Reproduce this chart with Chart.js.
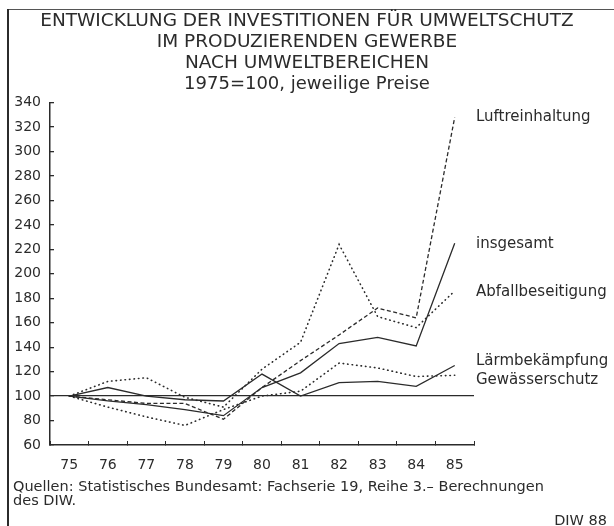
<!DOCTYPE html>
<html>
<head>
<meta charset="utf-8">
<script src="https://cdn.jsdelivr.net/npm/chart.js@4.4.1/dist/chart.umd.min.js"></script>
<style>
  html, body { margin: 0; padding: 0; background: #fff; }
  #wrap { width: 614px; height: 526px; }
</style>
</head>
<body>
<div id="wrap"><canvas id="chart"></canvas></div>
<script>
// values (1975 = 100)
const years = ["75", "76", "77", "78", "79", "80", "81", "82", "83", "84", "85"];
const luftreinhaltung = [100, 97, 94, 94, 81, 107, 129, 150, 172, 164, 328];
const insgesamt = [100, 96, 93, 89, 84, 107, 119, 143, 148, 141, 225];
const abfallbeseitigung = [100, 112, 115, 99, 91, 122, 144, 224, 165, 156, 186];
const laermbekaempfung = [100, 107, 100, 97, 96, 118, 100, 111, 112, 108, 125];
const gewaesserschutz = [100, 91, 83, 76, 89, 100, 104, 127, 123, 116, 117];

const seriesNames = ["Luftreinhaltung", "insgesamt", "Abfallbeseitigung", "Lärmbekämpfung", "Gewässerschutz"];
// where the name sits at the right end, in index units
const endLabelValues = [328, 224, 185, 129, 113];

const titleLines = [
  "ENTWICKLUNG DER INVESTITIONEN FÜR UMWELTSCHUTZ",
  "IM PRODUZIERENDEN GEWERBE",
  "NACH UMWELTBEREICHEN"
];
const subtitleText = "1975=100, jeweilige Preise";
const sourceLines = [
  "Quellen: Statistisches Bundesamt: Fachserie 19, Reihe 3.\u2013 Berechnungen",
  "des DIW."
];
const creditText = "DIW 88";

const ink = "#2b2b2b";
const fontFamily = "'DejaVu Sans', Verdana, sans-serif";

const dashed = [4, 2.5];
const dotted = [0.5, 4];

function lineSet(label, data, dash) {
  return {
    label: label,
    data: data,
    borderColor: ink,
    borderWidth: dash === dotted ? 1.6 : 1.3,
    borderDash: dash,
    borderCapStyle: dash === dotted ? "round" : "butt",
    pointRadius: 0,
    pointHoverRadius: 0,
    tension: 0,
    fill: false
  };
}

// frame, source note and the line names on the right
const decorations = {
  id: "decorations",
  beforeDraw(chart) {
    const { ctx } = chart;
    ctx.save();
    ctx.fillStyle = "#fff";
    ctx.fillRect(0, 0, chart.width, chart.height);
    ctx.strokeStyle = "#555";
    ctx.lineWidth = 1;
    ctx.beginPath();
    ctx.moveTo(8, 9.5);
    ctx.lineTo(chart.width, 9.5);
    ctx.stroke();
    ctx.strokeStyle = ink;
    ctx.lineWidth = 2;
    ctx.beginPath();
    ctx.moveTo(8, 9);
    ctx.lineTo(8, chart.height);
    ctx.stroke();
    ctx.restore();
  },
  afterDraw(chart) {
    const { ctx, chartArea } = chart;
    const y = chart.scales.y;
    ctx.save();
    ctx.fillStyle = ink;
    ctx.textBaseline = "middle";
    ctx.font = "15px " + fontFamily;
    ctx.textAlign = "left";
    seriesNames.forEach((name, i) => {
      ctx.fillText(name, chartArea.right + 2, y.getPixelForValue(endLabelValues[i]));
    });
    ctx.font = "14.5px " + fontFamily;
    ctx.fillText(sourceLines[0], 13, 487);
    ctx.fillText(sourceLines[1], 13, 501);
    ctx.textAlign = "right";
    ctx.fillText(creditText, 607, 521);
    ctx.restore();
  }
};

new Chart(document.getElementById("chart"), {
  type: "line",
  data: {
    labels: years,
    datasets: [
      lineSet(seriesNames[0], luftreinhaltung, dashed),
      lineSet(seriesNames[1], insgesamt, []),
      lineSet(seriesNames[2], abfallbeseitigung, dotted),
      lineSet(seriesNames[3], laermbekaempfung, []),
      lineSet(seriesNames[4], gewaesserschutz, dotted)
    ]
  },
  options: {
    responsive: true,
    maintainAspectRatio: false,
    animation: false,
    layout: {
      padding: { left: 0, right: 0, top: 0, bottom: 51 }
    },
    plugins: {
      legend: { display: false },
      tooltip: { enabled: false },
      title: {
        display: true,
        text: titleLines,
        color: ink,
        font: { family: fontFamily, size: 18.5, weight: "normal", lineHeight: 1.135 },
        padding: { top: 11, bottom: 0 }
      },
      subtitle: {
        display: true,
        text: subtitleText,
        color: ink,
        font: { family: fontFamily, size: 18, weight: "normal", lineHeight: 1.2 },
        padding: { top: 0, bottom: 7 }
      }
    },
    scales: {
      x: {
        type: "category",
        offset: true,
        border: { display: true, color: ink, width: 1.5 },
        grid: {
          offset: true,
          drawOnChartArea: false,
          tickLength: -4,
          tickColor: ink
        },
        ticks: {
          color: ink,
          padding: 16,
          maxRotation: 0,
          font: { family: fontFamily, size: 14 }
        },
        afterFit(scale) { scale.height = 30; }
      },
      y: {
        min: 60,
        max: 340,
        border: { display: true, color: ink, width: 1.5 },
        grid: {
          color: ctx => (ctx.tick && ctx.tick.value === 100 ? ink : "rgba(0,0,0,0)"),
          lineWidth: 1.3,
          tickLength: -4,
          tickColor: ink
        },
        ticks: {
          stepSize: 20,
          color: ink,
          padding: 13,
          font: { family: fontFamily, size: 14 }
        },
        afterFit(scale) { scale.width = 50; }
      },
      // empty room on the right for the line names
      labelRoom: {
        type: "linear",
        position: "right",
        display: true,
        grid: { display: false },
        border: { display: false },
        ticks: { display: false },
        afterFit(scale) { scale.width = 140; }
      }
    }
  },
  plugins: [decorations]
});
</script>
</body>
</html>
